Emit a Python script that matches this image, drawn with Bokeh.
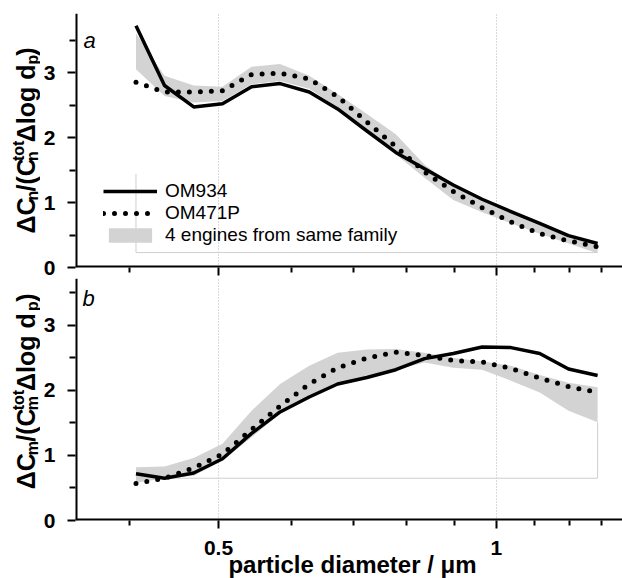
import math
from bokeh.plotting import figure
from bokeh.models import (FixedTicker, CustomJSTickFormatter, Label, Legend,
                          LegendItem, Range1d)
from bokeh.core.properties import value
from bokeh.layouts import column, row
from bokeh.embed import file_html
from bokeh.resources import INLINE

# ---------------- data ----------------
diam = [0.407, 0.437, 0.470, 0.505, 0.543, 0.583, 0.627, 0.673, 0.724,
        0.778, 0.836, 0.898, 0.965, 1.037, 1.114, 1.197, 1.287]

# panel a : number size distribution
n_om934 = [3.72, 2.80, 2.47, 2.52, 2.78, 2.83, 2.70, 2.44, 2.10, 1.77,
           1.52, 1.27, 1.05, 0.86, 0.68, 0.49, 0.37]
n_om471p = [2.85, 2.70, 2.70, 2.72, 2.97, 2.99, 2.90, 2.63, 2.24, 1.86,
            1.47, 1.17, 0.92, 0.70, 0.52, 0.41, 0.32]
n_band_hi = [3.60, 2.95, 2.80, 2.78, 3.09, 3.13, 2.95, 2.67, 2.36, 2.05,
             1.58, 1.27, 1.03, 0.85, 0.70, 0.49, 0.36]
n_band_lo = [3.05, 2.64, 2.54, 2.56, 2.82, 2.87, 2.75, 2.46, 2.13, 1.74,
             1.38, 1.04, 0.85, 0.68, 0.52, 0.37, 0.22]
n_box_x = [diam[0], diam[0], diam[-1]]
n_box_y = [1.44, 0.23, 0.23]

# panel b : mass size distribution
m_om934 = [0.72, 0.65, 0.73, 0.95, 1.34, 1.67, 1.90, 2.10, 2.20, 2.32,
           2.49, 2.57, 2.67, 2.66, 2.57, 2.33, 2.23]
m_om471p = [0.57, 0.65, 0.81, 1.02, 1.40, 1.76, 2.10, 2.35, 2.50, 2.59,
            2.54, 2.46, 2.44, 2.34, 2.19, 2.06, 1.97]
m_band_hi = [0.82, 0.83, 0.96, 1.18, 1.69, 2.10, 2.38, 2.58, 2.63, 2.64,
             2.58, 2.50, 2.45, 2.38, 2.24, 2.12, 2.05]
m_band_lo = [0.58, 0.65, 0.69, 0.92, 1.28, 1.64, 1.90, 2.10, 2.20, 2.32,
             2.43, 2.35, 2.32, 2.15, 1.97, 1.69, 1.51]
m_box_x = [diam[0], diam[-1], diam[-1]]
m_box_y = [0.65, 0.65, 1.51]

x_major = [0.5, 1.0]
x_major_labels = ["0.5", "1"]
x_minor = [0.4, 0.6, 0.7, 0.8, 0.9, 1.1, 1.2, 1.3]
y_major = [0, 1, 2, 3]
y_minor = [0.5, 1.5, 2.5, 3.5]

series_names = ["OM934", "OM471P", "4 engines from same family"]
x_title = "particle diameter / μm"

FONT = "Liberation Sans"
BAND = "#d3d3d3"
THIN = "#cfcfcf"
X0, X1 = 0.35, 1.3695
LEFT = 75          # page x of the plot frames' left edge
LABW = 40          # width of the y-title strips

WIDTHS = {'Δ': 0.72, 'C': 0.722, 'n': 0.611, 'm': 0.889, '/': 0.278,
          '(': 0.333, ')': 0.333, ' ': 0.278, 'l': 0.278, 'o': 0.611,
          'g': 0.611, 'd': 0.611, 'p': 0.611, 't': 0.333}
MID = 0.35  # em distance between alphabetic baseline and em-box middle


def tw(s, size):
    return sum(WIDTHS.get(c, 0.6) for c in s) * size


def make_fig(height, ymax, top, bottom):
    p = figure(width=622 - LABW, height=height, x_axis_type="log",
               x_range=Range1d(X0, X1), y_range=Range1d(0, ymax),
               output_backend="svg", toolbar_location=None,
               min_border_left=LEFT - LABW, min_border_right=0,
               min_border_top=top, min_border_bottom=bottom)
    p.outline_line_color = None
    # x axis: ticks only
    ax = p.xaxis[0]
    ax.ticker = FixedTicker(ticks=x_major, minor_ticks=x_minor)
    ax.axis_line_color = None
    ax.major_tick_line_width = 2
    ax.minor_tick_line_width = 2
    ax.major_tick_in = 0
    ax.major_tick_out = 8
    ax.minor_tick_in = 0
    ax.minor_tick_out = 5
    ax.formatter = CustomJSTickFormatter(code="return '';")
    ax.major_label_standoff = 0
    ax.major_label_text_font_size = "0px"
    # y axis
    ay = p.yaxis[0]
    ay.ticker = FixedTicker(ticks=y_major, minor_ticks=y_minor)
    ay.axis_line_color = None
    ay.major_tick_line_width = 2
    ay.minor_tick_line_width = 2
    ay.major_tick_in = 0
    ay.major_tick_out = 8
    ay.minor_tick_in = 0
    ay.minor_tick_out = 6
    ay.major_label_standoff = 12
    ay.major_label_text_font = FONT
    ay.major_label_text_font_style = "bold"
    ay.major_label_text_font_size = "21px"
    ay.major_label_text_color = "black"
    # grid
    p.ygrid.visible = False
    p.xgrid.ticker = FixedTicker(ticks=x_major)
    p.xgrid.grid_line_color = "#b5b5b5"
    p.xgrid.grid_line_width = 1
    p.xgrid.grid_line_dash = "1 2"
    # axis lines drawn inside the frame (half of a 4px line is visible)
    p.line([X0, X0], [0, ymax], line_color="black", line_width=4)
    p.line([X0, X1], [0, 0], line_color="black", line_width=4)
    return p


def title_strip(height, sub, x_base, y_start):
    t = figure(width=LABW, height=height, x_range=Range1d(0, LABW),
               y_range=Range1d(0, height), output_backend="svg",
               toolbar_location=None, min_border=0,
               x_axis_location=None, y_axis_location=None)
    t.outline_line_color = None
    t.grid.visible = False
    S, s = 25, 16
    pieces = [("ΔC", S, 0, True), (sub, s, 4, True), ("/(C", S, 0, True),
              (sub, s, 4, False), ("tot", s, -10.5, True),
              (" Δlog d", S, 0, True), ("p", s, 4, True), (")", S, 0, True)]
    pos = y_start
    for text, size, shift, adv in pieces:
        # anchor = middle of the em box, i.e. baseline moved "up" by MID*size
        t.text(x=[x_base + shift - MID * size], y=[pos], text=[text],
               angle=math.pi / 2, text_font=value(FONT),
               text_font_style="bold", text_font_size=f"{size}px",
               text_align="left", text_baseline="middle",
               text_color="black")
        if adv:
            pos += tw(text, size)
    return t


def draw(p, band_lo, band_hi, box_x, box_y, solid, dotted):
    rb = p.varea(x=diam, y1=band_lo, y2=band_hi, fill_color=BAND,
                 fill_alpha=1.0)
    p.line(box_x, box_y, line_color=THIN, line_width=1)
    rd = p.line(diam, dotted, line_color="black", line_width=5,
                line_dash="0 11", line_cap="round")
    rs = p.line(diam, solid, line_color="black", line_width=3.5,
                line_join="round")
    return rs, rd, rb


# ---------------- panel a (page y 0..277, frame 13..267) ----------------
HA = 277
pa = make_fig(HA, 3.908, 13, 10)
rs, rd, rb = draw(pa, n_band_lo, n_band_hi, n_box_x, n_box_y, n_om934, n_om471p)
legend = Legend(items=[LegendItem(label=series_names[0], renderers=[rs]),
                       LegendItem(label=series_names[1], renderers=[rd]),
                       LegendItem(label=series_names[2], renderers=[rb])],
                location=(28, 21), padding=0, margin=0, spacing=0,
                glyph_width=54, glyph_height=18, label_height=22,
                label_standoff=8, label_text_font=FONT,
                label_text_font_size="19px", label_text_color="black",
                background_fill_alpha=0, border_line_alpha=0)
pa.add_layout(legend)
pa.add_layout(Label(x=8, y=215, x_units="screen", y_units="screen",
                    text="a", text_font=FONT, text_font_style="italic",
                    text_font_size="22px", text_color="black"))
la = title_strip(HA, "n", 34, HA - 240)

# ---------------- panel b (page y 277..533, frame 278..520) -------------
HB = 256
pb = make_fig(HB, 3.723, 1, 13)
draw(pb, m_band_lo, m_band_hi, m_box_x, m_box_y, m_om934, m_om471p)
pb.add_layout(Label(x=7, y=210, x_units="screen", y_units="screen",
                    text="b", text_font=FONT, text_font_style="italic",
                    text_font_size="22px", text_color="black"))
lb = title_strip(HB, "m", 34, HB - (500 - 277))

# ---------------- bottom strip: tick labels + x title (page y 533..578) --
HC = 45
bt = figure(width=622, height=HC, x_axis_type="log", x_range=Range1d(X0, X1),
            y_range=Range1d(0, HC), output_backend="svg",
            toolbar_location=None, min_border_left=LEFT, min_border_right=0,
            min_border_top=0, min_border_bottom=0,
            x_axis_location=None, y_axis_location=None)
bt.outline_line_color = None
bt.grid.visible = False
bt.text(x=x_major, y=[578 - (555 - MID * 21)] * 2, text=x_major_labels,
        text_font=value(FONT), text_font_style="bold", text_font_size="21px",
        text_align="center", text_baseline="middle", text_color="black")
frac = (352 - LEFT) / (622 - LEFT)
x_mid = 10 ** (math.log10(X0) + frac * math.log10(X1 / X0))
bt.text(x=[x_mid], y=[578 - (572 - MID * 24)], text=[x_title],
        text_font=value(FONT), text_font_style="bold", text_font_size="24px",
        text_align="center", text_baseline="middle", text_color="black")

layout = column(row(la, pa, spacing=0), row(lb, pb, spacing=0), bt, spacing=0)
open("out.html", "w").write(file_html(layout, INLINE))
